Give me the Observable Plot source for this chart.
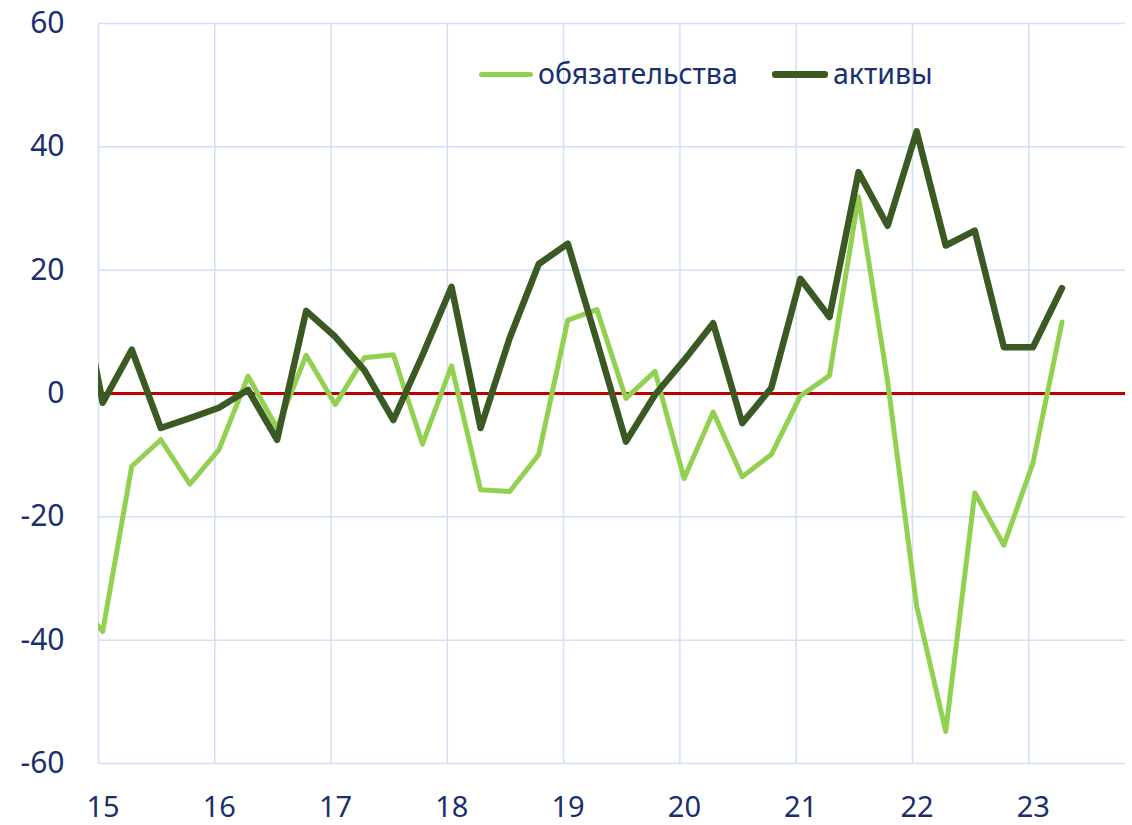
<!DOCTYPE html>
<html>
<head>
<meta charset="utf-8">
<script src="https://cdn.jsdelivr.net/npm/d3@7"></script>
<script src="https://cdn.jsdelivr.net/npm/@observablehq/plot@0.6"></script>
<style>
  body { margin: 0; background: #fff; }
  #wrap { position: relative; width: 1132px; height: 825px; font-family: "Noto Sans", sans-serif; }
  .lg { position: absolute; color: #1a2f6e; font-size: 28.5px; line-height: 28px; white-space: nowrap; }
  .sw { position: absolute; height: 5px; border-radius: 3px; }
</style>
</head>
<body>
<div id="wrap"></div>
<script>
// Quarters (yyQq). The first one lies just before the visible range and is clipped.
const periods = ["14Q4",
  "15Q1","15Q2","15Q3","15Q4","16Q1","16Q2","16Q3","16Q4",
  "17Q1","17Q2","17Q3","17Q4","18Q1","18Q2","18Q3","18Q4",
  "19Q1","19Q2","19Q3","19Q4","20Q1","20Q2","20Q3","20Q4",
  "21Q1","21Q2","21Q3","21Q4","22Q1","22Q2","22Q3","22Q4",
  "23Q1","23Q2"];
// обязательства (light green)
const liabilities = [-32.7,
  -38.6, -11.8, -7.5, -14.7, -9.1, 2.8, -5.6, 6.2,
  -1.8, 5.8, 6.3, -8.2, 4.5, -15.6, -15.9, -9.9,
  11.9, 13.6, -0.8, 3.6, -13.8, -3.0, -13.5, -9.9,
  -0.4, 2.9, 31.9, 2.0, -34.5, -54.8, -16.1, -24.6,
  -11.3, 11.6];
// активы (dark green)
const assets = [22.5,
  -1.5, 7.1, -5.6, -4.0, -2.3, 0.6, -7.5, 13.4,
  9.2, 3.8, -4.3, 6.2, 17.3, -5.6, 9.0, 21.0,
  24.3, 8.5, -7.8, -0.2, 5.4, 11.4, -4.8, 0.9,
  18.6, 12.4, 35.9, 27.2, 42.5, 24.0, 26.4, 7.5,
  7.5, 17.1];
const seriesNames = ["обязательства", "активы"];
const seriesColors = ["#92d050", "#3b5a23"];
const yearTicks = [15, 16, 17, 18, 19, 20, 21, 22, 23];
const valueTicks = [-60, -40, -20, 0, 20, 40, 60];

const toX = p => +p.slice(0, 2) + (+p[3] - 1) / 4 + 0.036;
const rows = periods.map((p, i) => ({x: toX(p), liab: liabilities[i], asset: assets[i]}));

const textColor = "#1a2f6e";
const gridColor = "#d3def7";

const chart = Plot.plot({
  width: 1132,
  height: 825,
  marginLeft: 98,
  marginRight: 7,
  marginTop: 23,
  marginBottom: 62,
  x: {domain: [15, 23.832], label: null},
  y: {domain: [-60, 60], label: null},
  style: {fontFamily: "'Noto Sans', sans-serif", background: "white", color: textColor},
  marks: [
    Plot.ruleX(yearTicks, {stroke: gridColor, strokeWidth: 1.5}),
    Plot.ruleY(valueTicks, {stroke: gridColor, strokeWidth: 1.5}),
    Plot.ruleY([0], {stroke: "#c00000", strokeWidth: 3}),
    Plot.line(rows, {x: "x", y: "liab", stroke: seriesColors[0], strokeWidth: 5, strokeLinejoin: "round", strokeLinecap: "round", clip: true}),
    Plot.line(rows, {x: "x", y: "asset", stroke: seriesColors[1], strokeWidth: 6.5, strokeLinejoin: "round", strokeLinecap: "round", clip: true}),
    Plot.axisX(yearTicks, {tickSize: 0, tickPadding: 33, dx: 4.5, tickFormat: d => String(d), fontSize: 29, fill: textColor, label: null}),
    Plot.axisY(valueTicks, {tickSize: 0, tickPadding: 34, tickFormat: d => String(d), fontSize: 30, fill: textColor, label: null})
  ]
});
const wrap = document.getElementById("wrap");
wrap.appendChild(chart);

// legend overlay
const legendItems = [
  {name: seriesNames[0], color: seriesColors[0], sx: 479, sw: 54, tx: 538, h: 5},
  {name: seriesNames[1], color: seriesColors[1], sx: 772, sw: 56, tx: 833, h: 7}
];
for (const it of legendItems) {
  const s = document.createElement("div");
  s.className = "sw";
  s.style.left = it.sx + "px";
  s.style.width = it.sw + "px";
  s.style.height = it.h + "px";
  s.style.top = (74 - it.h / 2) + "px";
  s.style.background = it.color;
  wrap.appendChild(s);
  const t = document.createElement("div");
  t.className = "lg";
  t.style.left = it.tx + "px";
  t.style.top = "59px";
  t.textContent = it.name;
  wrap.appendChild(t);
}
</script>
</body>
</html>
